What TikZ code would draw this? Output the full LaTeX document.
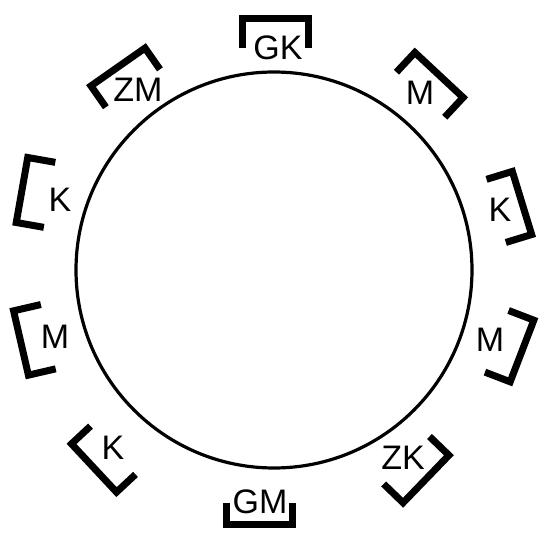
\documentclass[tikz,border=0pt]{standalone}
\usepackage{fontspec}
\setmainfont{Liberation Sans}
\usepackage{tikz}

\begin{document}
\begin{tikzpicture}[
    x=1pt, y=1pt,
    ring/.style={line width=3.2pt},
    clamp/.style={line width=7pt, line join=miter},
    tag/.style={font=\fontsize{34}{40}\selectfont, inner sep=0pt},
]
    \useasboundingbox (0,0) rectangle (539,533);

    % Ring
    \draw[ring] (274,263) circle (198);

    % Brackets: base x / base y / angle / leg / text / text x / text y
    \foreach \bx/\by/\ang/\leg/\txt/\tx/\ty [count=\i] in {
        275/514/90/29/GK/278/485,
        439/458/47/27/M/420/440,
        522/330/17/27/K/500/323,
        522/182/-21/27/M/490/193,
        426/54/-44/27/ZK/403/75,
        259/8/-90/22/GM/260/31,
        94/65/223/26/K/113/85,
        21/190/193/28/M/55/196,
        22/343/170/28/K/60/333,
        118/466/125/26/ZM/138/443}
    {
        \begin{scope}[shift={(\bx,\by)}, rotate=\ang-90]
            \draw[clamp] (-33,-\leg) -- (-33,0) -- (33,0) -- (33,-\leg);
        \end{scope}
        \node[tag] (tag\i) at (\tx,\ty) {\txt};
    }
\end{tikzpicture}
\end{document}
